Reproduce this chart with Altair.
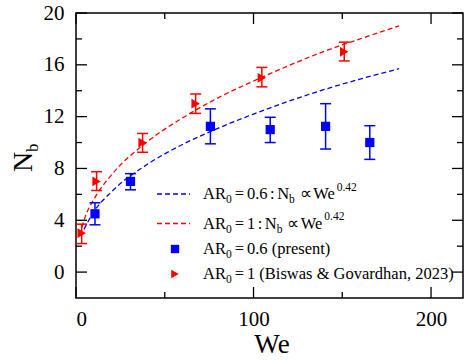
import altair as alt
import pandas as pd

# ---------------- data ----------------
we_blue = [10.7, 30.7, 75.7, 109.4, 140.6, 165.5]
nb_blue = [4.5, 7.0, 11.25, 11.0, 11.25, 10.0]
lo_blue = [3.65, 6.35, 9.9, 10.0, 9.5, 8.7]
hi_blue = [5.35, 7.6, 12.6, 11.95, 13.0, 11.3]

we_red = [3.2, 11.6, 37.5, 67.4, 104.7, 151.1]
nb_red = [3.0, 7.0, 10.0, 13.0, 15.0, 17.0]
lo_red = [2.2, 6.3, 9.25, 12.25, 14.3, 16.3]
hi_red = [3.7, 7.75, 10.7, 13.75, 15.8, 17.75]

fit_we_red = [2.2, 5, 10, 20, 40, 60, 80, 100, 120, 140, 160, 182]
fit_nb_red = [2.85, 4.2, 5.6, 7.5, 10.05, 11.9, 13.45, 14.75, 15.95, 17.05, 18.0, 19.0]
fit_we_blue = [4.5, 10, 20, 40, 60, 80, 100, 120, 140, 160, 182]
fit_nb_blue = [3.3, 4.65, 6.2, 8.3, 9.85, 11.1, 12.2, 13.2, 14.1, 14.9, 15.7]

x_major = [0, 100, 200]
x_minor = [50, 150]
y_major = [0, 4, 8, 12, 16, 20]
y_minor = [2, 6, 10, 14, 18]

# legend rows: list of (text, kind, gap before in px)
legend_rows = [
    [("AR", "n", 0), ("0", "sub", 0), ("=", "n", 3), ("0.6", "n", 3), (":", "n", 2.5),
     ("N", "n", 2.5), ("b", "sub", 0), ("\u221d", "n", 5), ("We", "n", 1.5), ("0.42", "sup", 0.5)],
    [("AR", "n", 0), ("0", "sub", 0), ("=", "n", 3), ("1", "n", 3), (":", "n", 2.5),
     ("N", "n", 2.5), ("b", "sub", 0), ("\u221d", "n", 5), ("We", "n", 1.5), ("0.42", "sup", 0.5)],
    [("AR", "n", 0), ("0", "sub", 0), ("=", "n", 3), ("0.6 (present)", "n", 3)],
    [("AR", "n", 0), ("0", "sub", 0), ("=", "n", 3), ("1 (Biswas & Govardhan, 2023)", "n", 3)],
]

# ---------------- style / layout ----------------
W, H = 387, 285
FONT = "Liberation Serif"
BLUE = "#0000ff"
RED = "#ff0000"
xs = alt.Scale(domain=[0, 218], nice=False, zero=False)
ys = alt.Scale(domain=[-2, 20], nice=False, zero=False)

xaxis = alt.Axis(values=x_major, ticks=False, tickSize=0, domain=False, grid=False,
                 labelFont=FONT, labelFontSize=21, labelColor="black",
                 labelPadding=10, title="")
yaxis = alt.Axis(values=y_major, ticks=False, tickSize=0, domain=False, grid=False,
                 labelFont=FONT, labelFontSize=21, labelColor="black",
                 labelPadding=12, title="")

blue = pd.DataFrame({"we": we_blue, "nb": nb_blue, "lo": lo_blue, "hi": hi_blue})
red = pd.DataFrame({"we": we_red, "nb": nb_red, "lo": lo_red, "hi": hi_red})
fit_red = pd.DataFrame({"we": fit_we_red, "nb": fit_nb_red})
fit_blue = pd.DataFrame({"we": fit_we_blue, "nb": fit_nb_blue})

X = lambda f: alt.X(f, type="quantitative", scale=xs, axis=xaxis)
Y = lambda f: alt.Y(f, type="quantitative", scale=ys, axis=yaxis)

layers = []

# fit lines
for df, col in [(fit_blue, BLUE), (fit_red, RED)]:
    layers.append(alt.Chart(df).mark_line(color=col, strokeDash=[5, 3], strokeWidth=1.3,
                                          interpolate="monotone")
                  .encode(x=X("we"), y=Y("nb")))

# error bars
for df, col in [(blue, BLUE), (red, RED)]:
    layers.append(alt.Chart(df).mark_rule(color=col, strokeWidth=1.5)
                  .encode(x=X("we"), y=Y("lo"), y2=alt.Y2("hi")))
    for f in ["lo", "hi"]:
        layers.append(alt.Chart(df).mark_rule(color=col, strokeWidth=1.5, xOffset=-5.5, x2Offset=5.5)
                      .encode(x=X("we"), x2=alt.X2("we"), y=Y(f)))

# points
layers.append(alt.Chart(blue).mark_point(shape="square", filled=True, size=85, color=BLUE, opacity=1)
              .encode(x=X("we"), y=Y("nb")))
layers.append(alt.Chart(red).mark_point(shape="triangle-right", filled=True, size=95, color=RED, opacity=1)
              .encode(x=X("we"), y=Y("nb")))

# inward ticks on all four sides
def tick_layers(vals, length):
    dfx = pd.DataFrame({"v": vals})
    return [
        alt.Chart(dfx).mark_rule(color="black", strokeWidth=1.3)
        .encode(x=X("v"), y=alt.value(H), y2=alt.value(H - length)),
        alt.Chart(dfx).mark_rule(color="black", strokeWidth=1.3)
        .encode(x=X("v"), y=alt.value(0), y2=alt.value(length)),
    ]

def ytick_layers(vals, length):
    dfy = pd.DataFrame({"v": vals})
    return [
        alt.Chart(dfy).mark_rule(color="black", strokeWidth=1.3)
        .encode(y=Y("v"), x=alt.value(0), x2=alt.value(length)),
        alt.Chart(dfy).mark_rule(color="black", strokeWidth=1.3)
        .encode(y=Y("v"), x=alt.value(W), x2=alt.value(W - length)),
    ]

layers += tick_layers(x_major, 11) + tick_layers(x_minor, 6)
layers += ytick_layers(y_major, 11) + ytick_layers(y_minor, 6)

one = pd.DataFrame({"a": [0]})

def text(s, x, y, fs, align="left", angle=0):
    kw = dict(text=s, font=FONT, fontSize=fs, align=align, baseline="alphabetic", color="black")
    if angle:
        kw["angle"] = angle
    return alt.Chart(one).mark_text(**kw).encode(x=alt.value(x), y=alt.value(y))

# axis titles
layers.append(text("We", 196, 340, 27, align="center"))
layers.append(text("N", -44, 149, 28, align="center", angle=270))
layers.append(text("b", -38, 139, 17, align="left", angle=270))

# legend
CW = {'A': .722, 'R': .667, ' ': .25, '=': .564, '.': .25, ':': .278, 'N': .722, 'b': .5,
      'W': .944, 'e': .444, '(': .333, ')': .333, 'p': .5, 'r': .333, 's': .389, 'n': .5,
      't': .278, 'B': .667, 'i': .278, 'w': .722, 'a': .444, '&': .778, 'G': .722, 'o': .5,
      'v': .5, 'd': .5, 'h': .5, ',': .25, '\u221d': .72}

def tw(s, fs):
    return sum(CW.get(c, 0.5) for c in s) * fs

KIND = {"n": (16.5, 0), "sub": (11.5, 4), "sup": (11.5, -8.5)}
baselines = [186, 215.5, 241, 266]
x0 = 127
for row, yb in zip(legend_rows, baselines):
    px = x0
    for s, kind, gap in row:
        fs, dy = KIND[kind]
        px += gap
        layers.append(text(s, px, yb + dy, fs))
        px += tw(s, fs)

# legend symbols
for yb, col in [(baselines[0], BLUE), (baselines[1], RED)]:
    layers.append(alt.Chart(one).mark_rule(color=col, strokeDash=[5, 3], strokeWidth=1.3)
                  .encode(x=alt.value(81), x2=alt.value(114), y=alt.value(yb - 5)))
layers.append(alt.Chart(one).mark_point(shape="square", filled=True, size=70, color=BLUE, opacity=1)
              .encode(x=alt.value(99), y=alt.value(baselines[2] - 5)))
layers.append(alt.Chart(one).mark_point(shape="triangle-right", filled=True, size=75, color=RED, opacity=1)
              .encode(x=alt.value(99), y=alt.value(baselines[3] - 5)))

chart = (alt.layer(*layers)
         .properties(width=W, height=H, background="white",
                     padding={"left": 76, "top": 13, "right": 1, "bottom": 62},
                     autosize=alt.AutoSizeParams(type="none"))
         .configure_view(stroke="black", strokeWidth=1.5)
         .configure_axis(labelFont=FONT, labelFontSize=21, labelColor="black")
         .configure_text(font=FONT))

chart.save("out.html", embed_options={"renderer": "svg", "actions": False})
